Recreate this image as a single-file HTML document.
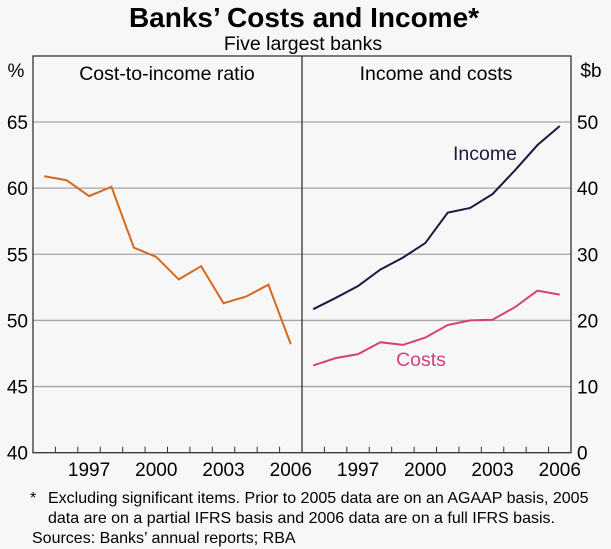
<!DOCTYPE html>
<html><head><meta charset="utf-8"><style>
html,body{margin:0;padding:0;background:#f7f7f7;}
svg{display:block;font-family:"Liberation Sans",Arial,sans-serif;}
</style></head><body>
<svg id="chart" width="611" height="549" viewBox="0 0 611 549">
<rect x="0" y="0" width="611" height="549" fill="#f7f7f7"/>
<text x="304" y="27" text-anchor="middle" font-size="28" font-weight="bold" fill="#000">Banks’ Costs and Income*</text>
<text x="303" y="50" text-anchor="middle" font-size="19.5" fill="#000">Five largest banks</text>
<g id="grid"></g>
<g id="axes"></g>
<text x="167" y="80" text-anchor="middle" font-size="19.5">Cost-to-income ratio</text>
<text x="436" y="80" text-anchor="middle" font-size="19.5">Income and costs</text>
<text x="16" y="77" text-anchor="middle" font-size="19">%</text>
<text x="591" y="77" text-anchor="middle" font-size="19">$b</text>
<g id="series"></g>
<text x="485" y="160" text-anchor="middle" font-size="19.5" fill="#1a1a40">Income</text>
<text x="421" y="366" text-anchor="middle" font-size="19.5" fill="#d6407a">Costs</text>
<text x="30" y="503" font-size="16">*</text>
<text x="48" y="503" font-size="16">Excluding significant items. Prior to 2005 data are on an AGAAP basis, 2005</text>
<text x="48" y="523" font-size="16">data are on a partial IFRS basis and 2006 data are on a full IFRS basis.</text>
<text x="32" y="543" font-size="16">Sources: Banks’ annual reports; RBA</text>
</svg>
<script>
const years = [1995,1996,1997,1998,1999,2000,2001,2002,2003,2004,2005,2006];
const ratioValues = [60.9,60.6,59.4,60.1,55.5,54.8,53.1,54.1,51.3,51.8,52.7,48.2];
const incomeValues = [21.7,23.4,25.2,27.7,29.5,31.7,36.3,37.0,39.1,42.7,46.5,49.4];
const costsValues = [13.2,14.3,14.9,16.7,16.3,17.4,19.3,20.0,20.1,22.0,24.5,23.9];
const leftTicks = [40,45,50,55,60,65];
const rightTicks = [0,10,20,30,40,50];
const yearLabels = [1997,2000,2003,2006];

const NS="http://www.w3.org/2000/svg";
const L=33, D=302, R=571, T=56, B=452.7;
const yL=v=>B-(v-40)/25*(B-122);
const yR=v=>B-v/50*(B-122);
const step=(D-L)/12, stepR=(R-D)/12;
const xL=y=>L+(y-1995+0.5)*step;
const xR=y=>D+(y-1995+0.5)*stepR;
function mk(tag,attrs,parent){const e=document.createElementNS(NS,tag);for(const k in attrs)e.setAttribute(k,attrs[k]);parent.appendChild(e);return e;}
const grid=document.getElementById('grid'),axes=document.getElementById('axes'),series=document.getElementById('series');
mk('rect',{x:L,y:T,width:R-L,height:B-T,fill:'#f7f7f7'},grid);
leftTicks.forEach((v,i)=>{
  const y=yL(v);
  if(v>40&&v<70){const g=mk('line',{x1:L,x2:R,y1:y,y2:y,stroke:'#a6a6a6','stroke-width':1.3},grid);
  
  }
  const t=mk('text',{x:28,y:y+7,'text-anchor':'end','font-size':19},axes);t.textContent=v;
  
  
});
rightTicks.forEach(v=>{
  const y=yR(v);
  const t=mk('text',{x:577,y:y+7,'font-size':19},axes);t.textContent=v;
  
  
});
for(let i=1;i<12;i++){
  mk('line',{x1:L+i*step,x2:L+i*step,y1:B,y2:B-6,stroke:'#333','stroke-width':1},axes);
  mk('line',{x1:D+i*stepR,x2:D+i*stepR,y1:B,y2:B-6,stroke:'#333','stroke-width':1},axes);
}
yearLabels.forEach(yr=>{
  const a=mk('text',{x:xL(yr),y:476,'text-anchor':'middle','font-size':19},axes);a.textContent=yr;
  
  
  const b=mk('text',{x:xR(yr),y:476,'text-anchor':'middle','font-size':19},axes);b.textContent=yr;
  
  
});
const frame=mk('rect',{x:L,y:T,width:R-L,height:B-T,fill:'none',stroke:'#333','stroke-width':1.3},axes);


const div=mk('line',{x1:D,x2:D,y1:T,y2:B,stroke:'#333','stroke-width':1.3},axes);


function line(vals,xf,yf,color,name){
  const p=mk('polyline',{points:vals.map((v,i)=>xf(years[i])+','+yf(v)).join(' '),fill:'none',stroke:color,'stroke-width':2,'stroke-linejoin':'miter'},series);
  
  
}
line(ratioValues,xL,yL,'#d2691e','cost-to-income-line');
line(incomeValues,xR,yR,'#1a1a40','income-line');
line(costsValues,xR,yR,'#d6407a','costs-line');
</script>
</body></html>
